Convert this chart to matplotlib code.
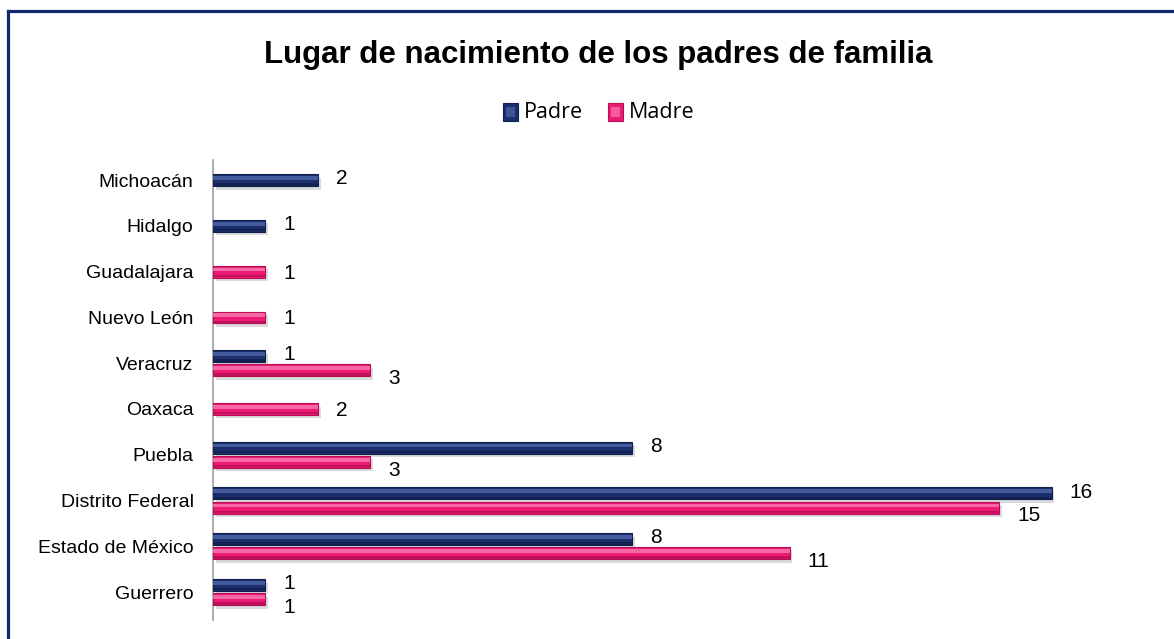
import numpy as np
import matplotlib
matplotlib.use("Agg")
import matplotlib.pyplot as plt
from matplotlib.patches import Rectangle
from matplotlib.lines import Line2D
import matplotlib.patheffects as pe

# Birthplace counts (bottom to top)
categories = ["Guerrero", "Estado de México", "Distrito Federal", "Puebla", "Oaxaca",
              "Veracruz", "Nuevo León", "Guadalajara", "Hidalgo", "Michoacán"]
padre = [1, 8, 16, 8, np.nan, 1, np.nan, np.nan, 1, 2]
madre = [1, 11, 15, 3, 2, 3, 1, 1, np.nan, np.nan]
series_names = ["Padre", "Madre"]
title = "Lugar de nacimiento de los padres de familia"

W, H = 1174, 639
fig = plt.figure(figsize=(W / 100, H / 100), dpi=100)
fig.patch.set_facecolor("white")

ax = fig.add_axes([213 / W, 1 - 620 / H, (1104 - 213) / W, (620 - 160) / H])
ax.set_xlim(0, 17)
ax.set_ylim(-0.61, 9.44)

styles = {
    "Padre": dict(base="#1c2f6c", light="#4a64a6", dark="#111f4d"),
    "Madre": dict(base="#ec1a74", light="#f777ae", dark="#b50e55"),
}

bar_h = 0.26
offset = 0.155
shadow = [pe.SimplePatchShadow(offset=(2, -2.5), shadow_rgbFace="#9a9a9a", alpha=0.35), pe.Normal()]


def draw_bar(y, value, st):
    b = ax.barh(y, value, height=bar_h, color=st["base"], edgecolor=st["dark"], linewidth=0.8, zorder=3)
    for p in b:
        p.set_path_effects(shadow)
    # glossy highlight along the upper part of the bar
    ax.barh(y + bar_h * 0.18, value, height=bar_h * 0.32, color=st["light"], linewidth=0, zorder=4, alpha=0.85)
    # darker strip along the bottom
    ax.barh(y - bar_h * 0.36, value, height=bar_h * 0.2, color=st["dark"], linewidth=0, zorder=4, alpha=0.8)


label_font = dict(family="Liberation Sans", fontsize=15, color="black")
for i in range(len(categories)):
    p, m = padre[i], madre[i]
    both = not (np.isnan(p) or np.isnan(m))
    if not np.isnan(p):
        y = i + offset if both else i
        draw_bar(y, p, styles["Padre"])
        ax.annotate(f"{int(p)}", (p, y), xytext=(13, 1), textcoords="offset points",
                    ha="left", va="center", zorder=6, **label_font)
    if not np.isnan(m):
        y = i - offset if both else i
        draw_bar(y, m, styles["Madre"])
        ax.annotate(f"{int(m)}", (m, y), xytext=(13, -6 if both else -1), textcoords="offset points",
                    ha="left", va="center", zorder=6, **label_font)

ax.set_yticks(range(len(categories)))
ax.set_yticklabels(categories, family="Liberation Sans", fontsize=14)
ax.tick_params(axis="y", length=0, pad=14)
ax.set_xticks([])
for s in ["top", "right", "bottom"]:
    ax.spines[s].set_visible(False)
ax.spines["left"].set_color("#a6a6a6")
ax.spines["left"].set_linewidth(1.3)
ax.set_facecolor("none")

# Title
fig.text(598 / W, 1 - 55 / H, title, ha="center", va="center",
         family="Liberation Sans", fontweight="bold", fontsize=22.5, color="black")

# Legend
leg_y = 1 - 112 / H
sq_w, sq_h = 15 / W, 17 / H
for x_sq, x_txt, name in [(503, 524, "Padre"), (608, 629, "Madre")]:
    st = styles[name]
    fig.patches.append(Rectangle((x_sq / W, leg_y - sq_h / 2), sq_w, sq_h, transform=fig.transFigure,
                                 facecolor=st["base"], edgecolor=st["dark"], linewidth=0.8))
    fig.patches.append(Rectangle(((x_sq + 3) / W, leg_y - sq_h / 2 + 4 / H), 9 / W, 10 / H,
                                 transform=fig.transFigure, facecolor=st["light"], linewidth=0, alpha=0.7))
    fig.text(x_txt / W, leg_y, name, ha="left", va="center", family="Open Sans", fontsize=15.5, color="black")

# Outer frame
frame_color = "#0e2a6b"
fig.lines.append(Line2D([7.5 / W, 7.5 / W], [0, 1 - 10.5 / H], transform=fig.transFigure,
                        color=frame_color, linewidth=2.3, solid_capstyle="projecting"))
fig.lines.append(Line2D([7.5 / W, 1], [1 - 10.5 / H, 1 - 10.5 / H], transform=fig.transFigure,
                        color=frame_color, linewidth=2.3, solid_capstyle="projecting"))

fig.savefig("out.png", dpi=100)
